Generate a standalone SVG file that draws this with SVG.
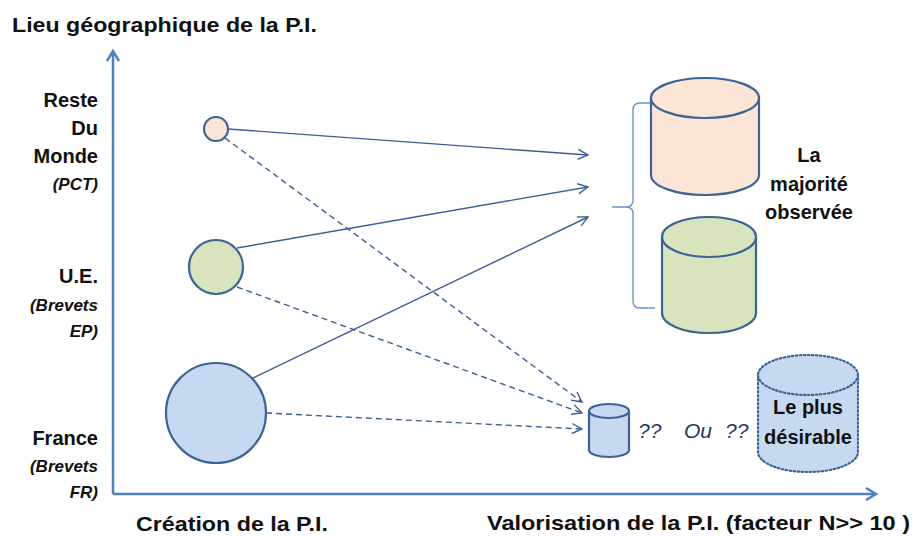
<svg xmlns="http://www.w3.org/2000/svg" width="916" height="536" viewBox="0 0 916 536">
  <style>
    text { font-family: "Liberation Sans", Arial, sans-serif; fill: #111; }
    .b { font-weight: bold; font-size: 20px; }
    .it { font-weight: bold; font-style: italic; font-size: 17px; }
    .title { font-weight: bold; font-size: 21px; }
    .q { font-style: italic; font-size: 21px; fill: #1F3864; }
    .axis { stroke: #4F81BD; stroke-width: 2.5; fill: none; }
    .link { stroke: #3C5F93; stroke-width: 1.4; fill: none; marker-end: url(#open); }
    .dash { stroke-dasharray: 6 4; }
    .node { stroke: #3F6394; stroke-width: 2.2; }
    .brace { stroke: #6A95CC; stroke-width: 1.4; fill: none; }
  </style>
  <defs>
    <marker id="open" viewBox="0 0 12 12" refX="11" refY="6" markerWidth="12" markerHeight="12" markerUnits="userSpaceOnUse" orient="auto">
      <path d="M1,1 L11,6 L1,11" fill="none" stroke="#3C5F93" stroke-width="1.4"/>
    </marker>
    <marker id="axisHead" viewBox="0 0 14 14" refX="12" refY="7" markerWidth="14" markerHeight="14" markerUnits="userSpaceOnUse" orient="auto">
      <path d="M2,1 L12,7 L2,13" fill="none" stroke="#4F81BD" stroke-width="2.5"/>
    </marker>
  </defs>

  <!-- axes -->
  <g id="axes">
    <path class="axis" d="M113,494 L113,51" marker-end="url(#axisHead)"/>
    <path class="axis" d="M113,494 L876,494" marker-end="url(#axisHead)"/>
  </g>

  <!-- axis titles -->
  <text class="title" x="12" y="32" textLength="305" lengthAdjust="spacingAndGlyphs">Lieu géographique de la P.I.</text>
  <text class="title" x="136" y="531" textLength="192" lengthAdjust="spacingAndGlyphs">Création de la P.I.</text>
  <text class="title" x="487" y="530" textLength="423" lengthAdjust="spacingAndGlyphs">Valorisation de la P.I. (facteur N&gt;&gt; 10 )</text>

  <!-- row labels -->
  <g id="label-rdm" text-anchor="end">
    <text class="b" x="98" y="107">Reste</text>
    <text class="b" x="98" y="135">Du</text>
    <text class="b" x="98" y="163">Monde</text>
    <text class="it" x="98" y="190">(PCT)</text>
  </g>
  <g id="label-ue" text-anchor="end">
    <text class="b" x="98" y="283">U.E.</text>
    <text class="it" x="98" y="311">(Brevets</text>
    <text class="it" x="98" y="337">EP)</text>
  </g>
  <g id="label-fr" text-anchor="end">
    <text class="b" x="98" y="445">France</text>
    <text class="it" x="98" y="472">(Brevets</text>
    <text class="it" x="98" y="498">FR)</text>
  </g>

  <!-- connectors -->
  <g id="connectors">
    <path class="link" d="M228,129 L588,155"/>
    <path class="link" d="M237,248 L588,187"/>
    <path class="link" d="M253,378 L588,217"/>
    <path class="link dash" d="M225,138 L582,402"/>
    <path class="link dash" d="M237,287 L582,413"/>
    <path class="link dash" d="M266,413 L582,429"/>
  </g>

  <!-- origin nodes -->
  <g id="node-rdm">
    <circle class="node" cx="216" cy="129" r="12" fill="#FBE5D6"/>
  </g>
  <g id="node-ue">
    <circle class="node" cx="216" cy="267" r="27" fill="#D7E4BD"/>
  </g>
  <g id="node-fr">
    <circle class="node" cx="216" cy="413" r="50" fill="#C6D9F1"/>
  </g>

  <!-- brace -->
  <g id="brace">
    <path class="brace" d="M651,103 L640,103 Q633,103 633,110 L633,200 Q633,207 626,207 L612,207 M626,207 Q633,207 633,214 L633,301 Q633,308 640,308 L655,308"/>
  </g>

  <!-- observed cylinders -->
  <g id="cyl-rdm">
    <path class="node" fill="#FBE5D6" d="M651,98 L651,175 A54,20 0 0 0 759,175 L759,98"/>
    <ellipse class="node" cx="705" cy="98" rx="54" ry="20" fill="#FBE5D6"/>
  </g>
  <g id="cyl-ue">
    <path class="node" fill="#D7E4BD" d="M662,237 L662,313 A47,20 0 0 0 756,313 L756,237"/>
    <ellipse class="node" cx="709" cy="237" rx="47" ry="20" fill="#D7E4BD"/>
  </g>

  <g id="label-majorite" text-anchor="middle">
    <text class="b" x="809" y="162">La</text>
    <text class="b" x="809" y="191">majorité</text>
    <text class="b" x="809" y="219">observée</text>
  </g>

  <!-- small cylinder -->
  <g id="cyl-fr">
    <path class="node" fill="#C6D9F1" d="M589,411 L589,450 A20,7 0 0 0 629,450 L629,411"/>
    <ellipse class="node" cx="609" cy="411" rx="20" ry="7" fill="#C6D9F1"/>
  </g>

  <text class="q" x="638" y="438">??</text>
  <text class="q" x="684" y="438">Ou</text>
  <text class="q" x="725" y="438">??</text>

  <!-- desirable cylinder (dotted) -->
  <g id="cyl-desirable">
    <path class="node" fill="#C6D9F1" stroke-dasharray="1.5 2.5" stroke-linecap="round" d="M758,375 L758,452 A50,20 0 0 0 858,452 L858,375"/>
    <ellipse class="node" cx="808" cy="375" rx="50" ry="20" fill="#C6D9F1" stroke-dasharray="1.5 2.5" stroke-linecap="round"/>
    <text class="b" x="808" y="414" text-anchor="middle">Le plus</text>
    <text class="b" x="808" y="444" text-anchor="middle">désirable</text>
  </g>
</svg>
